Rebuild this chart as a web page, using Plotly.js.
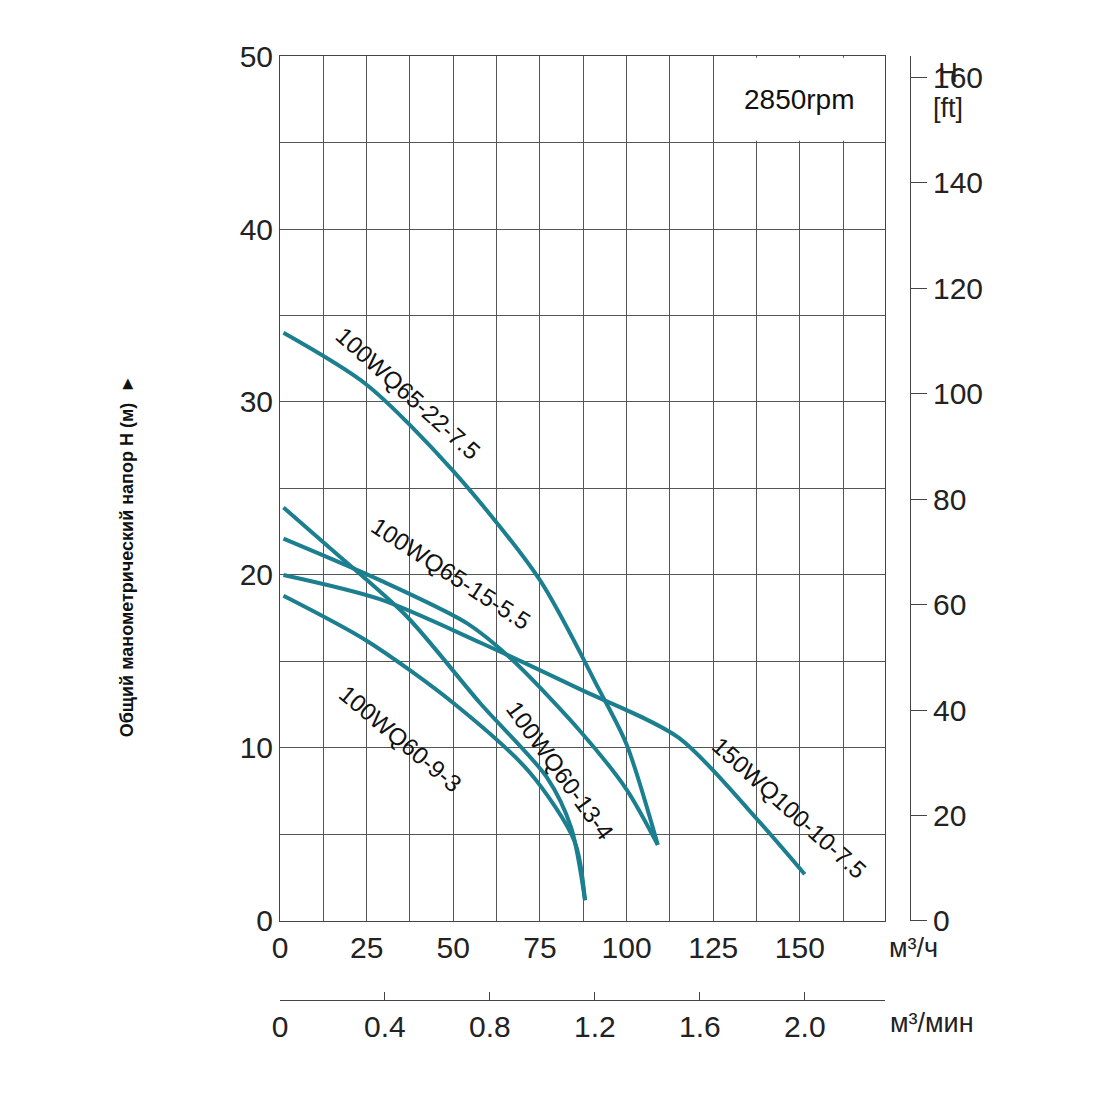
<!DOCTYPE html>
<html>
<head>
<meta charset="utf-8">
<script src="https://cdn.plot.ly/plotly-3.0.1.min.js"></script>
<style>body{margin:0;background:#fff}</style>
</head>
<body>
<div id="chart" style="width:1100px;height:1100px"></div>
<script>
// flow in m3/h, head in m
var q_22_75 = [1, 25, 50, 75, 92, 100, 109];
var h_22_75 = [34, 31, 26, 19.7, 13.4, 10.2, 4.4];
var q_15_55 = [1, 28.8, 54, 67, 86.5, 100, 109];
var h_15_55 = [22.1, 19.7, 17.2, 15.1, 11, 7.6, 4.4];
var q_13_4 = [1, 15.3, 36.6, 57.7, 77, 84, 88];
var h_13_4 = [23.9, 21.4, 17.6, 12.6, 8.3, 5.4, 1.2];
var q_9_3 = [1, 25, 50, 72, 85, 88];
var h_9_3 = [18.8, 16.2, 12.6, 8.6, 4.6, 1.2];
var q_100 = [1, 28.8, 57.7, 86.5, 115, 138, 151.4];
var h_100 = [20, 18.6, 16.1, 13.4, 10.6, 5.8, 2.7];

var names = ["100WQ65-22-7.5", "100WQ65-15-5.5", "100WQ60-13-4", "100WQ60-9-3", "150WQ100-10-7.5"];
var qs = [q_22_75, q_15_55, q_13_4, q_9_3, q_100];
var hs = [h_22_75, h_15_55, h_13_4, h_9_3, h_100];
// label position (Q, H), angle and pixel offset from the curve
var labQ = [33.6, 47.6, 80.8, 37, 144];
var labH = [29.8, 19.4, 8.7, 11, 6];
var labA = [42, 33, 54, 40, 42];
var labDx = [12, 6, 0, -8, 10];
var labDy = [12, 12, 0, -8, 10];

var teal = "#1b7f8f";
var font = "Liberation Sans, Arial, sans-serif";

var data = qs.map(function (q, i) {
  return { x: q, y: hs[i], name: names[i], type: "scatter", mode: "lines",
           line: { color: teal, width: 4, shape: "spline", smoothing: 0.8 }, hoverinfo: "skip" };
});
// empty traces so the second scales get drawn
data.push({ x: [0], y: [0], xaxis: "x2", yaxis: "y", mode: "markers", marker: { opacity: 0 }, hoverinfo: "skip" });
data.push({ x: [0], y: [0], xaxis: "x", yaxis: "y2", mode: "markers", marker: { opacity: 0 }, hoverinfo: "skip" });

var ann = names.map(function (n, i) {
  return { text: n, x: labQ[i], y: labH[i], xref: "x", yref: "y", showarrow: false,
           xshift: labDx[i], yshift: labDy[i],
           textangle: labA[i], font: { family: font, size: 24, color: "#111" } };
});
ann.push(
  { text: "2850rpm", x: 150, y: 47.5, xref: "x", yref: "y", showarrow: false, font: { family: font, size: 28, color: "#111" } },
  { text: "<b>Общий манометрический напор H (м)</b>  ►", x: -0.262, y: 0.47, xref: "paper", yref: "paper",
    showarrow: false, textangle: -90, font: { family: font, size: 18, color: "#111" } },
  { text: "м³/ч", x: 1.048, y: 0.037, xref: "paper", yref: "paper", showarrow: false, font: { family: font, size: 27, color: "#222" } },
  { text: "м³/мин", x: 1.105, y: -0.042, xref: "paper", yref: "paper", showarrow: false, font: { family: font, size: 27, color: "#222" } },
  { text: "H<br>[ft]", x: 1.087, y: 1.0, xref: "paper", yref: "paper", showarrow: false, font: { family: font, size: 27, color: "#222" } }
);

var layout = {
  width: 1100, height: 1100,
  margin: { l: 280, r: 190, t: 56, b: 100 },
  paper_bgcolor: "#fff", plot_bgcolor: "#fff",
  showlegend: false,
  font: { family: font, size: 30, color: "#222" },
  xaxis: { domain: [0, 0.96], range: [0, 174.5], tickvals: [0, 25, 50, 75, 100, 125, 150],
           showgrid: true, gridcolor: "#555", gridwidth: 1,
           minor: { dtick: 12.5, tick0: 0, showgrid: true, gridcolor: "#555", gridwidth: 1 },
           showline: true, linecolor: "#444", mirror: true, zeroline: false, ticks: "", anchor: "y" },
  yaxis: { domain: [0.0837, 1], range: [0, 50], dtick: 10, showgrid: true, gridcolor: "#555", gridwidth: 1,
           minor: { dtick: 5, showgrid: true, gridcolor: "#555", gridwidth: 1 },
           showline: true, linecolor: "#444", mirror: true, zeroline: false, ticks: "" },
  xaxis2: { overlaying: "x", anchor: "free", position: 0, domain: [0, 0.96], range: [0, 2.305],
            tickvals: [0, 0.4, 0.8, 1.2, 1.6, 2.0], ticktext: ["0", "0.4", "0.8", "1.2", "1.6", "2.0"],
            showgrid: false, showline: true, linecolor: "#444", ticks: "inside", ticklen: 8, tickcolor: "#444", zeroline: false },
  yaxis2: { overlaying: "y", anchor: "free", position: 1, side: "right", range: [0, 164], dtick: 20,
            showgrid: false, showline: true, linecolor: "#444", ticks: "outside", ticklen: 16, tickcolor: "#444", zeroline: false },
  shapes: [
    { type: "rect", xref: "x", yref: "y", x0: 125.3, x1: 174.2, y0: 45.1, y1: 49.9, fillcolor: "#fff", line: { width: 0 }, layer: "above" }
  ],
  annotations: ann
};

Plotly.newPlot("chart", data, layout, { staticPlot: true });
</script>
</body>
</html>
